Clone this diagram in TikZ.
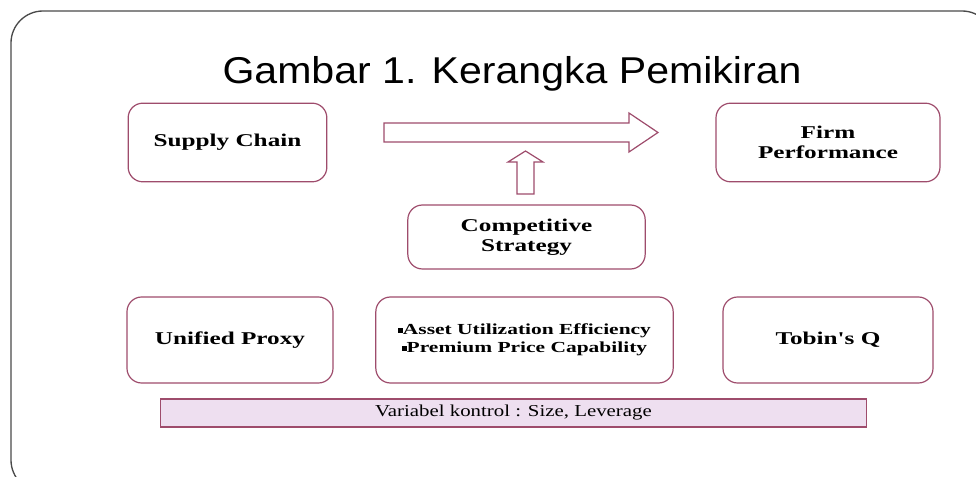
\documentclass[tikz,border=0pt]{standalone}
\usepackage{fontspec}
\setmainfont{Liberation Serif}
\newfontfamily\titlefont[FakeStretch=1.1]{Liberation Sans}
\newfontfamily\boxfont[FakeStretch=1.4]{Liberation Serif}
\newfontfamily\barfont[FakeStretch=1.25]{Liberation Serif}
\usetikzlibrary{positioning}
\definecolor{boxline}{HTML}{9E4C6C}
\definecolor{barfill}{HTML}{EEDFF0}
\definecolor{frameline}{HTML}{4A4A4A}
\newcommand{\sqbullet}{\rule[0.12em]{0.32em}{0.32em}}

\begin{document}
\begin{tikzpicture}[x=0.75pt,y=-0.75pt,
    box/.style={draw=boxline, line width=0.9pt, rounded corners=11pt, align=center,
      inner sep=0pt, outer sep=0pt, font=\boxfont\fontsize{13.5}{15}\selectfont\bfseries},
    blockarrow/.style={draw=boxline, line width=0.9pt, fill=white, line join=miter}]
  \useasboundingbox (0,0) rectangle (976,477);
  \begin{scope}
    \clip (0,0) rectangle (976,477);
    \draw[frameline, line width=1pt, rounded corners=24pt] (11,11) rectangle (994,492);
  \end{scope}
  \node[anchor=base, font=\titlefont\fontsize{28}{32}\selectfont] (title) at (512,84) {Gambar 1. Kerangka Pemikiran};
  % upper row
  \node[box, minimum width=149pt, minimum height=59pt] (sc) at (227.5,142.5) {Supply Chain};
  \node[box, minimum width=168pt, minimum height=59pt] (fp) at (828,142.5) {Firm\\Performance};
  \node[box, minimum width=178pt, minimum height=48pt] (cs) at (526.5,237) {Competitive\\Strategy};
  % lower row
  \node[box, minimum width=154.5pt, minimum height=64.5pt] (up) at (230,340) {Unified Proxy};
  \node[box, minimum width=223pt, minimum height=64.5pt,
        font=\boxfont\fontsize{11.5}{13.5}\selectfont\bfseries] (ms) at (524.5,340)
        {\sqbullet Asset Utilization Efficiency\\\sqbullet Premium Price Capability};
  \node[box, minimum width=157.5pt, minimum height=64.5pt] (tq) at (828,340) {Tobin's Q};
  \node[draw=boxline, line width=0.9pt, fill=barfill, minimum width=529pt, minimum height=21pt,
        inner sep=0pt, font=\barfont\fontsize{12.5}{14}\selectfont] (ctrl) at (513.5,413)
        {Variabel kontrol : Size, Leverage};
  % block arrows
  \draw[blockarrow] (384,123) -- (629,123) -- (629,113) -- (658,132.5) -- (629,152)
    -- (629,142) -- (384,142) -- cycle;
  \draw[blockarrow] (517,194) -- (517,162) -- (508,162) -- (525.5,151) -- (543,162)
    -- (534,162) -- (534,194) -- cycle;
\end{tikzpicture}
\end{document}
